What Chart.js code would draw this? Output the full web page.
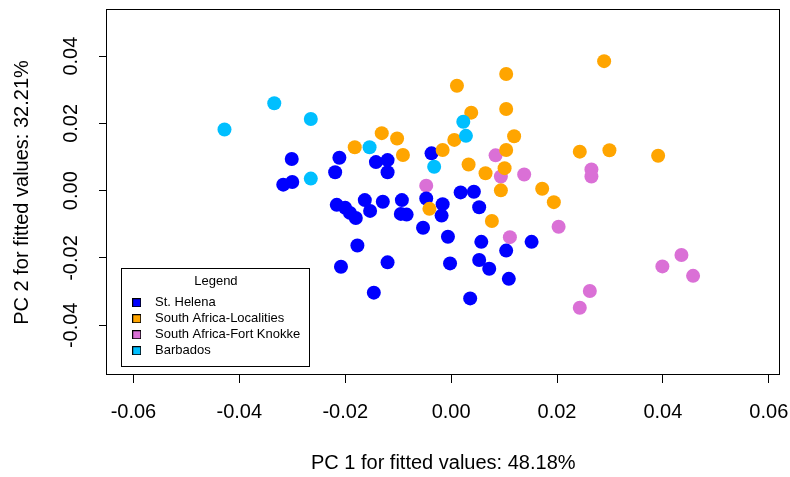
<!DOCTYPE html>
<html>
<head>
<meta charset="utf-8">
<script src="https://cdn.jsdelivr.net/npm/chart.js"></script>
<style>
  html, body { margin: 0; padding: 0; background: #ffffff; }
  #wrap { width: 790px; height: 477px; }
</style>
</head>
<body>
<div id="wrap"><canvas id="c" width="790" height="477"></canvas></div>
<script>
// ---- data ----
const seriesNames = ['St. Helena', 'South Africa-Localities', 'South Africa-Fort Knokke', 'Barbados'];
const seriesColors = ['#0000FF', '#FFA500', '#DA70D6', '#00BFFF'];

const stHelenaX = [-0.0301, -0.0317, -0.0300, -0.0211, -0.0219, -0.0142, -0.0120, -0.0120, -0.0216, -0.0200,
                   -0.0191, -0.0180, -0.0163, -0.0153, -0.0129, -0.0093, -0.0095, -0.0084, -0.0047, -0.0037,
                   -0.0016, -0.0018, -0.0053, -0.0006, 0.0018, 0.0043, 0.0053, 0.0057, 0.0104, 0.0152,
                   0.0053, -0.0002, 0.0072, 0.0109, 0.0036, -0.0177, -0.0120, -0.0208, -0.0146];
const stHelenaY = [0.0094, 0.0018, 0.0026, 0.0098, 0.0055, 0.0085, 0.0091, 0.0055, -0.0042, -0.0051,
                   -0.0066, -0.0081, -0.0028, -0.0060, -0.0033, -0.0028, -0.0069, -0.0071, -0.0023, 0.0111,
                   -0.0040, -0.0074, -0.0110, -0.0137, -0.0005, -0.0003, -0.0049, -0.0152, -0.0178, -0.0152,
                   -0.0206, -0.0216, -0.0232, -0.0262, -0.0320, -0.0163, -0.0213, -0.0226, -0.0303];

const saLocalitiesX = [0.0289, 0.0104, 0.0011, 0.0038, 0.0104, 0.0119, 0.0006, -0.0016, 0.0104, 0.0243,
                       0.0299, 0.0391, -0.0131, -0.0102, -0.0182, -0.0091, 0.0033, 0.0101, 0.0065, 0.0172,
                       0.0094, 0.0194, 0.0077, -0.0041];
const saLocalitiesY = [0.0385, 0.0347, 0.0312, 0.0232, 0.0243, 0.0162, 0.0151, 0.0121, 0.0121, 0.0116,
                       0.0120, 0.0104, 0.0171, 0.0155, 0.0129, 0.0106, 0.0078, 0.0067, 0.0052, 0.0006,
                       0.0001, -0.0034, -0.0090, -0.0054];

const saFortKnokkeX = [0.0084, 0.0094, 0.0138, 0.0265, 0.0265, -0.0047, 0.0203, 0.0111, 0.0435, 0.0399,
                       0.0457, 0.0262, 0.0243];
const saFortKnokkeY = [0.0105, 0.0042, 0.0048, 0.0063, 0.0042, 0.0015, -0.0107, -0.0138, -0.0191, -0.0225,
                       -0.0253, -0.0298, -0.0348];

const barbadosX = [-0.0428, -0.0334, -0.0265, -0.0265, -0.0154, 0.0023, 0.0028, -0.0032];
const barbadosY = [0.0182, 0.0260, 0.0213, 0.0036, 0.0129, 0.0205, 0.0163, 0.0071];

const xTickValues = [-0.06, -0.04, -0.02, 0.00, 0.02, 0.04, 0.06];
const xTickLabels = ['-0.06', '-0.04', '-0.02', '0.00', '0.02', '0.04', '0.06'];
const yTickValues = [-0.04, -0.02, 0.00, 0.02, 0.04];
const yTickLabels = ['-0.04', '-0.02', '0.00', '0.02', '0.04'];

const xTitle = 'PC 1 for fitted values: 48.18%';
const yTitle = 'PC 2 for fitted values: 32.21%';
const legendTitle = 'Legend';

// ---- chart ----
const FONT = '"Liberation Sans", Arial, Helvetica, sans-serif';
Chart.defaults.font.family = FONT;
Chart.defaults.color = '#000000';

function pts(xs, ys) { return xs.map((x, i) => ({ x: x, y: ys[i] })); }

const seriesX = [stHelenaX, saLocalitiesX, saFortKnokkeX, barbadosX];
const seriesY = [stHelenaY, saLocalitiesY, saFortKnokkeY, barbadosY];
const drawOrder = [2, 1, 3, 0]; // lower = drawn on top

const datasets = seriesNames.map((name, i) => ({
  label: name,
  data: pts(seriesX[i], seriesY[i]),
  backgroundColor: seriesColors[i],
  borderColor: seriesColors[i],
  borderWidth: 0,
  pointRadius: 7,
  pointHoverRadius: 7,
  pointBorderWidth: 0,
  order: drawOrder[i]
}));

function legendSwatch(color) {
  const c = document.createElement('canvas');
  c.width = 9; c.height = 9;
  const g = c.getContext('2d');
  g.fillStyle = color;
  g.fillRect(0.5, 0.5, 8, 8);
  g.strokeStyle = '#000000';
  g.lineWidth = 1;
  g.strokeRect(0.5, 0.5, 8, 8);
  return c;
}

const LEG = { left: 121.9, top: 268, width: 188, height: 99 };

const layoutPlugin = {
  id: 'legendPlace',
  afterLayout(chart) {
    const lg = chart.legend;
    if (!lg) return;
    lg.left = LEG.left; lg.top = LEG.top;
    lg.width = LEG.width; lg.height = LEG.height;
    lg.right = LEG.left + LEG.width; lg.bottom = LEG.top + LEG.height;
  },
  afterDraw(chart) {
    const ctx = chart.ctx;
    const a = chart.chartArea;
    ctx.save();
    ctx.strokeStyle = '#000000';
    ctx.lineWidth = 1;
    ctx.strokeRect(Math.round(a.left) - 0.5, Math.round(a.top) - 0.5,
                   Math.round(a.right) - Math.round(a.left), Math.round(a.bottom) - Math.round(a.top));
    ctx.strokeRect(121.5, 268.5, 188, 98);
    ctx.restore();
  }
};

function zeroPad(scale) {
  scale.paddingLeft = 0; scale.paddingRight = 0;
  scale.paddingTop = 0; scale.paddingBottom = 0;
}

new Chart(document.getElementById('c'), {
  type: 'scatter',
  data: { datasets: datasets },
  plugins: [layoutPlugin],
  options: {
    responsive: false,
    animation: false,
    devicePixelRatio: 1,
    layout: { padding: { left: 0, top: 10, right: 10.5, bottom: 0 } },
    plugins: {
      tooltip: { enabled: false },
      legend: {
        display: true,
        position: 'chartArea',
        align: 'start',
        title: {
          display: true, text: legendTitle, position: 'center', color: '#000000',
          font: { size: 13, family: FONT }, padding: { top: 7, bottom: 2.6 }
        },
        labels: {
          usePointStyle: true,
          pointStyleWidth: 23.6,
          boxHeight: 8,
          padding: 3,
          color: '#000000',
          font: { size: 13, family: FONT },
          generateLabels(chart) {
            return chart.data.datasets.map((ds, i) => ({
              text: ds.label,
              fillStyle: seriesColors[i],
              strokeStyle: '#000000',
              lineWidth: 1,
              pointStyle: legendSwatch(seriesColors[i]),
              hidden: false,
              datasetIndex: i,
              fontColor: '#000000'
            }));
          }
        }
      }
    },
    scales: {
      x: {
        type: 'linear',
        position: 'bottom',
        min: -0.06499,
        max: 0.06202,
        afterBuildTicks(scale) { scale.ticks = xTickValues.map(v => ({ value: v })); },
        afterFit(scale) { scale.height = 102; zeroPad(scale); },
        border: { display: false },
        grid: { display: true, drawOnChartArea: false, drawTicks: true, tickLength: 8, tickColor: '#000000', tickWidth: 1 },
        ticks: {
          color: '#000000', font: { size: 20, family: FONT }, padding: 17, maxRotation: 0, autoSkip: false,
          callback(value, index) { return xTickLabels[index]; }
        },
        title: { display: true, text: xTitle, color: '#000000', font: { size: 20, family: FONT }, padding: { top: 0, bottom: 2 } }
      },
      y: {
        type: 'linear',
        position: 'left',
        min: -0.05477,
        max: 0.0537,
        afterBuildTicks(scale) { scale.ticks = yTickValues.map(v => ({ value: v })); },
        afterFit(scale) { scale.width = 107; zeroPad(scale); },
        border: { display: false },
        grid: { display: true, drawOnChartArea: false, drawTicks: true, tickLength: 8, tickColor: '#000000', tickWidth: 1 },
        ticks: {
          color: '#000000', font: { size: 20, family: FONT }, padding: 5, minRotation: 90, maxRotation: 90,
          crossAlign: 'center', autoSkip: false,
          callback(value, index) { return yTickLabels[index]; }
        },
        title: { display: true, text: yTitle, color: '#000000', font: { size: 20, family: FONT }, padding: { top: 10, bottom: 0 } }
      }
    }
  }
});
</script>
</body>
</html>
